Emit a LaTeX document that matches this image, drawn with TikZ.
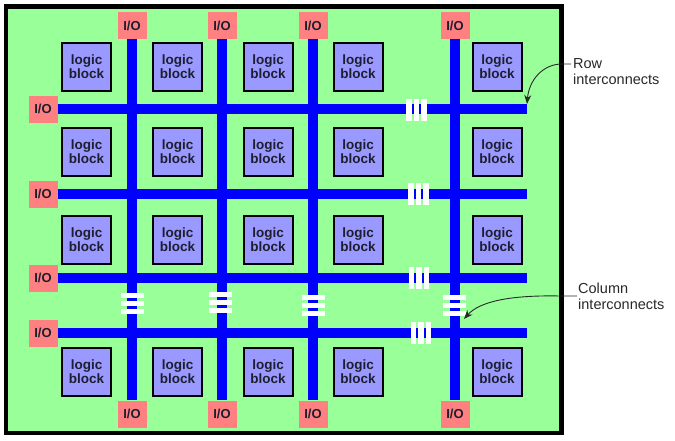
\documentclass[tikz,border=0pt]{standalone}
\usepackage{fontspec}
\setmainfont{Liberation Sans}
\usetikzlibrary{arrows.meta}
\definecolor{bggreen}{RGB}{153,255,153}
\definecolor{busblue}{RGB}{0,0,255}
\definecolor{iored}{RGB}{255,128,128}
\definecolor{blockblue}{RGB}{153,153,255}
\definecolor{txtdark}{RGB}{30,30,50}
\definecolor{annodark}{RGB}{40,40,40}
\tikzset{
  io/.style={fill=iored, minimum width=29pt, minimum height=27pt, inner sep=0pt,
    font=\fontsize{13}{13}\selectfont\bfseries, text=txtdark},
  lb/.style={draw=black, line width=2pt, fill=blockblue, minimum width=49pt,
    minimum height=48pt, inner sep=0pt, align=center,
    font=\fontsize{13.5}{14}\selectfont\bfseries, text=txtdark},
  bus/.style={draw=busblue, line width=9.5pt},
  anno/.style={inner sep=0pt, align=left, text=annodark,
    font=\fontsize{14.5}{16.5}\selectfont},
  annoline/.style={draw=annodark, line width=0.9pt,
    -{Stealth[length=9pt,width=7pt]}},
}
\begin{document}
\begin{tikzpicture}[x=1pt,y=-1pt]
\useasboundingbox (0,0) rectangle (675,440);
\fill[white] (0,0) rectangle (675,440);
\draw[line width=4.5pt, fill=bggreen] (6,6.5) rectangle (561.5,433);

% I/O pads
\foreach \i/\x in {1/132,2/222,3/313,4/455}{
  \node[io] (iot\i) at (\x,25.5) {I/O};
  \node[io] (iob\i) at (\x,414) {I/O};
}
\foreach \j/\y in {1/109,2/194,3/278,4/333}{
  \node[io] (iol\j) at (43,\y) {I/O};
  \coordinate (re\j) at (527,\y);
}

% buses
\foreach \i in {1,2,3,4}{
  \draw[bus] (iot\i) -- (iob\i);
}
\foreach \j in {1,2,3,4}{
  \draw[bus] (iol\j) -- (re\j);
}

% logic blocks
\foreach \c/\x in {1/86.5,2/177.5,3/268,4/358,5/497}{
  \foreach \r/\y in {1/67,2/152,3/240,4/372}{
    \node[lb] (lb\c\r) at (\x,\y) {logic\\block};
  }
}

% row switches (vertical white bars)
\foreach \x/\y in {416.5/110,418.5/194,419/278,421/333}{
  \foreach \d in {-7.5,0,7.5}{
    \fill[white] ({\x+\d-2.6},{\y-11}) rectangle ({\x+\d+2.6},{\y+11});
  }
}
% column switches (horizontal white bars)
\foreach \x/\y in {132/303.5,220.5/302.5,313.5/305.5,454.5/305.5}{
  \foreach \d in {-8,0,8}{
    \fill[white] ({\x-11.5},{\y+\d-2.4}) rectangle ({\x+11.5},{\y+\d+2.4});
  }
}

% annotations
\node[anno, anchor=west] (rowlbl) at (573,71.5) {Row\\interconnects};
\coordinate (rowstart) at (571,64);
\coordinate (rowbend) at (562,64);
\coordinate (rowtip) at (527,104);
\draw[annoline] (rowstart) -- (rowbend) .. controls (543,64) and (529,80) .. (rowtip);

\node[anno, anchor=west] (collbl) at (578,296.5) {Column\\interconnects};
\coordinate (colstart) at (577,296);
\coordinate (colbend) at (560,296);
\coordinate (coltip) at (464,319);
\draw[annoline] (colstart) -- (colbend) .. controls (512,295) and (480,301) .. (coltip);
\end{tikzpicture}
\end{document}
